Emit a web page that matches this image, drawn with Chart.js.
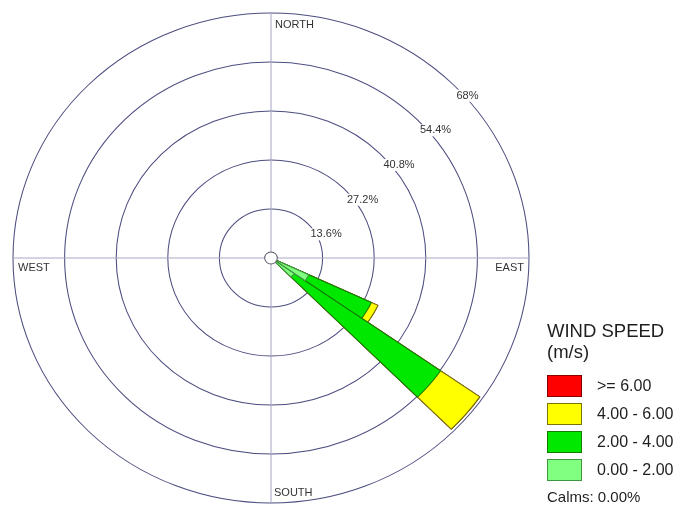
<!DOCTYPE html>
<html>
<head>
<meta charset="utf-8">
<script src="https://cdn.jsdelivr.net/npm/chart.js@4/dist/chart.umd.min.js"></script>
<style>
  html, body { margin: 0; padding: 0; background: #fff; width: 676px; height: 506px; overflow: hidden; }
  body { font-family: "Liberation Sans", Arial, sans-serif; color: #1e1e1e; }
  #wrap { position: relative; width: 676px; height: 506px; }
  #rose { position: absolute; left: 0; top: 0; }
  .lg-title { position: absolute; left: 547px; top: 320px; font-size: 18.5px; line-height: 21px; white-space: nowrap; }
  .lg-box { position: absolute; left: 547px; width: 33px; height: 20px; border: 1px solid #444; }
  .lg-text { position: absolute; left: 597px; font-size: 16px; line-height: 22px; white-space: nowrap; }
  .lg-calms { position: absolute; left: 547px; top: 487px; font-size: 15px; line-height: 20px; white-space: nowrap; }
</style>
</head>
<body>
<div id="wrap">
  <canvas id="rose" width="676" height="506"></canvas>
  <div id="legend"></div>
</div>
<script>
// Direction sectors (degrees clockwise from north), 10° each
const directions = [
    0,  10,  20,  30,  40,  50,  60,  70,  80,  90, 100, 110,
  120, 130, 140, 150, 160, 170, 180, 190, 200, 210, 220, 230,
  240, 250, 260, 270, 280, 290, 300, 310, 320, 330, 340, 350
];

// Wind speed classes (m/s) and their colours
const speedBins   = ['0.00 - 2.00', '2.00 - 4.00', '4.00 - 6.00', '>= 6.00'];
const binColors   = ['#80ff80', '#00e800', '#ffff00', '#ff0000'];
const binBorders  = ['#3e963e', '#177a00', '#75750a', '#8a0000'];

// Frequency (%) per direction sector for each speed class
const freq0to2 = [
  0, 0, 0, 0, 0, 0, 0, 0, 0, 0, 0, 0,
  11.0, 7.5, 0, 0, 0, 0, 0, 0, 0, 0, 0, 0,
  0, 0, 0, 0, 0, 0, 0, 0, 0, 0, 0, 0
];
const freq2to4 = [
  0, 0, 0, 0, 0, 0, 0, 0, 0, 0, 0, 0,
  18.2, 47.1, 0, 0, 0, 0, 0, 0, 0, 0, 0, 0,
  0, 0, 0, 0, 0, 0, 0, 0, 0, 0, 0, 0
];
const freq4to6 = [
  0, 0, 0, 0, 0, 0, 0, 0, 0, 0, 0, 0,
  1.9, 12.6, 0, 0, 0, 0, 0, 0, 0, 0, 0, 0,
  0, 0, 0, 0, 0, 0, 0, 0, 0, 0, 0, 0
];
const freq6up = [
  0, 0, 0, 0, 0, 0, 0, 0, 0, 0, 0, 0,
  0, 0, 0, 0, 0, 0, 0, 0, 0, 0, 0, 0,
  0, 0, 0, 0, 0, 0, 0, 0, 0, 0, 0, 0
];

// Frequency rings (%)
const ringValues = [0, 13.6, 27.2, 40.8, 54.4, 68];
const calmsPct = 0.00;

// Compass labels
const compassNames = ['NORTH', 'EAST', 'SOUTH', 'WEST'];

// Stacked petals: each class is drawn as a cumulative wedge from the centre,
// the innermost class on top.
const classes = [freq0to2, freq2to4, freq4to6, freq6up];
const cumulative = classes.map((_, k) =>
  directions.map((_, i) => classes.slice(0, k + 1).reduce((s, arr) => s + arr[i], 0))
);

// The rose is drawn slightly wider than tall
const STRETCH_X = 1.053;
const LABEL_FONT = '11px "Liberation Sans", Arial, sans-serif';

const roseLook = {
  id: 'roseLook',
  beforeDraw(chart) {
    const s = chart.scales.r, ctx = chart.ctx;
    ctx.save();
    ctx.translate(s.xCenter, 0);
    ctx.scale(STRETCH_X, 1);
    ctx.translate(-s.xCenter, 0);
  },
  beforeDatasetsDraw(chart) {
    // N–S and E–W axis lines
    const s = chart.scales.r, ctx = chart.ctx;
    const R = s.getDistanceFromCenterForValue(s.max);
    ctx.save();
    ctx.strokeStyle = '#a7a7c4';
    ctx.lineWidth = 1;
    ctx.beginPath();
    ctx.moveTo(s.xCenter, s.yCenter - R);
    ctx.lineTo(s.xCenter, s.yCenter + R);
    ctx.moveTo(s.xCenter - R, s.yCenter);
    ctx.lineTo(s.xCenter + R, s.yCenter);
    ctx.stroke();
    ctx.restore();
  },
  afterDatasetsDraw(chart) {
    // calms circle at the centre
    const s = chart.scales.r, ctx = chart.ctx;
    ctx.save();
    ctx.beginPath();
    ctx.arc(s.xCenter, s.yCenter, 6, 0, Math.PI * 2);
    ctx.fillStyle = '#ffffff';
    ctx.fill();
    ctx.strokeStyle = '#5a5a6a';
    ctx.lineWidth = 1;
    ctx.stroke();
    ctx.restore();
  },
  afterDraw(chart) {
    const s = chart.scales.r, ctx = chart.ctx;
    ctx.restore();
    const xc = s.xCenter, yc = s.yCenter;
    const R = s.getDistanceFromCenterForValue(s.max);
    const Rx = R * STRETCH_X;

    ctx.save();
    ctx.font = LABEL_FONT;
    ctx.fillStyle = '#333333';
    ctx.textBaseline = 'middle';

    // ring labels along the north-east diagonal
    const a = Math.PI / 4;
    ringValues.slice(1).forEach(v => {
      const d = s.getDistanceFromCenterForValue(v);
      const px = xc + d * STRETCH_X * Math.sin(a) + 3;
      const py = yc - d * Math.cos(a) + 5;
      const txt = v + '%';
      const w = ctx.measureText(txt).width;
      ctx.fillStyle = '#ffffff';
      ctx.fillRect(px - 1, py, w + 2, 12);
      ctx.fillStyle = '#333333';
      ctx.textAlign = 'left';
      ctx.fillText(txt, px, py + 6);
    });

    // compass names just inside the outer ring
    ctx.textAlign = 'left';
    ctx.fillText(compassNames[0], xc + 4, yc - R + 12);
    ctx.fillText(compassNames[2], xc + 3, yc + R - 10);
    ctx.fillText(compassNames[3], xc - Rx + 5, yc + 10);
    ctx.textAlign = 'right';
    ctx.fillText(compassNames[1], xc + Rx - 5, yc + 10);
    ctx.restore();
  }
};

new Chart(document.getElementById('rose'), {
  type: 'polarArea',
  data: {
    labels: directions.map(d => d + '°'),
    datasets: cumulative.map((vals, k) => ({
      label: speedBins[k],
      data: vals,
      backgroundColor: binColors[k],
      borderColor: binBorders[k],
      borderWidth: 1
    }))
  },
  options: {
    responsive: false,
    animation: false,
    events: [],
    layout: { padding: { left: 26, right: 160, top: 13, bottom: 3 } },
    plugins: { legend: { display: false }, tooltip: { enabled: false } },
    scales: {
      r: {
        min: 0,
        max: 68,
        startAngle: -5,
        afterBuildTicks: scale => { scale.ticks = ringValues.map(v => ({ value: v })); },
        ticks: { display: false },
        grid: { circular: true, color: '#4d4d80', lineWidth: 1 },
        angleLines: { display: false },
        pointLabels: { display: false }
      }
    }
  },
  plugins: [roseLook]
});

// Legend: highest class first
const legend = document.getElementById('legend');
const title = document.createElement('div');
title.className = 'lg-title';
title.innerHTML = 'WIND SPEED<br>(m/s)';
legend.appendChild(title);
speedBins.slice().reverse().forEach((label, i) => {
  const k = speedBins.length - 1 - i;
  const top = 375 + i * 28;
  const box = document.createElement('div');
  box.className = 'lg-box';
  box.style.top = top + 'px';
  box.style.background = binColors[k];
  box.style.borderColor = binBorders[k];
  legend.appendChild(box);
  const txt = document.createElement('div');
  txt.className = 'lg-text';
  txt.style.top = top + 'px';
  txt.textContent = label;
  legend.appendChild(txt);
});
const calms = document.createElement('div');
calms.className = 'lg-calms';
calms.textContent = 'Calms: ' + calmsPct.toFixed(2) + '%';
legend.appendChild(calms);
</script>
</body>
</html>
